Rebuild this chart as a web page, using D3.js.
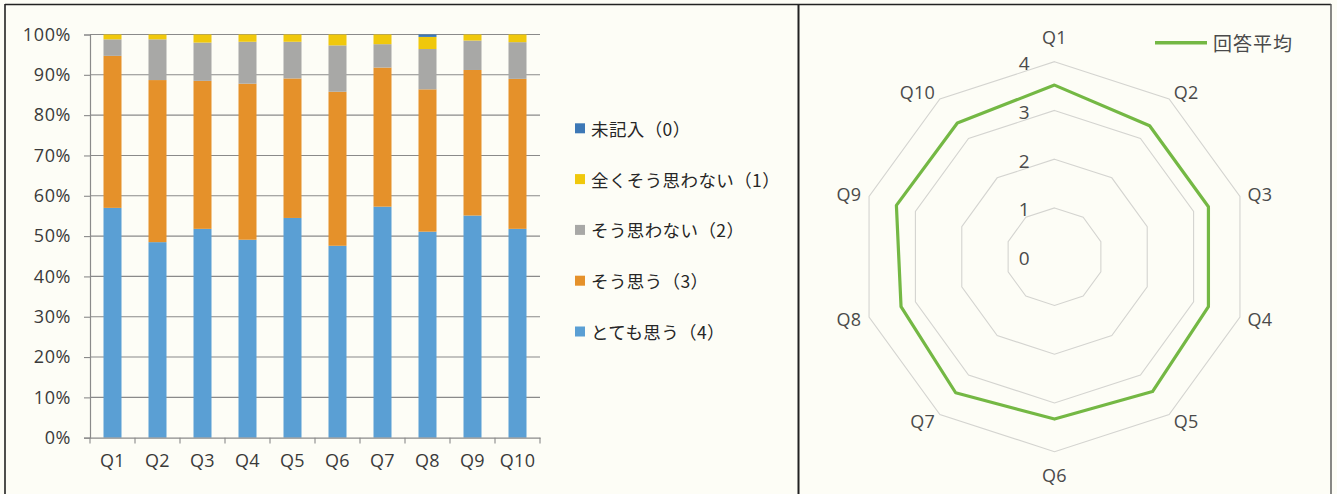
<!DOCTYPE html>
<html><head><meta charset="utf-8">
<script src="https://cdn.jsdelivr.net/npm/d3@7"></script>
<style>
html,body{margin:0;padding:0;background:#fdfdf6;}
svg{display:block;}
text{font-family:"Open Sans","Noto Sans CJK JP",sans-serif;}
.jp{font-family:"Noto Sans CJK JP","Open Sans",sans-serif;}
</style></head>
<body>
<script>
// ---- data ----
const questions = ["Q1","Q2","Q3","Q4","Q5","Q6","Q7","Q8","Q9","Q10"];
const seriesNames = ["とても思う（4）","そう思う（3）","そう思わない（2）","全くそう思わない（1）","未記入（0）"];
const verymuch  = [57.0,48.5,51.8,49.1,54.5,47.6,57.3,51.1,55.1,51.8];
const agree     = [37.7,40.2,36.7,38.7,34.6,38.2,34.5,35.3,36.1,37.2];
const disagree  = [4.1,10.1,9.5,10.4,9.1,11.5,5.8,10.0,7.3,9.1];
const never     = [1.2,1.2,2.0,1.8,1.8,2.7,2.4,3.0,1.5,1.9];
const noanswer  = [0,0,0,0,0,0,0,0.6,0,0];
const yTicks    = [0,10,20,30,40,50,60,70,80,90,100];
const radarAvg  = [3.52,3.32,3.32,3.32,3.42,3.33,3.45,3.31,3.41,3.39];
const radarTicks = [0,1,2,3,4];
const radarLegend = "回答平均";
const colors = ["#5a9fd4","#e5912a","#a8a8a6","#f0c80c","#3d78b6"];

const W = 1337, H = 494;
const svg = d3.select("body").append("svg").attr("width", W).attr("height", H);
svg.append("rect").attr("width", W).attr("height", H).attr("fill", "#fdfdf6");

// frames
svg.append("line").attr("x1",5).attr("x2",1331).attr("y1",4.5).attr("y2",4.5).attr("stroke","#222").attr("stroke-width",1.6);
svg.append("line").attr("x1",5).attr("x2",5).attr("y1",4).attr("y2",H).attr("stroke","#222").attr("stroke-width",1.6);
svg.append("line").attr("x1",798.5).attr("x2",798.5).attr("y1",4).attr("y2",H).attr("stroke","#222").attr("stroke-width",2);
svg.append("line").attr("x1",1331).attr("x2",1331).attr("y1",4).attr("y2",H).attr("stroke","#555").attr("stroke-width",1.4);

// ---- stacked bar chart ----
const x = d3.scaleBand().domain(questions).range([90,540]).paddingInner(0.6).paddingOuter(0.3);
const y = d3.scaleLinear().domain([0,100]).range([437.7,34.5]);
const gridCol = "#8a8a8a";
const textCol = "#3a3a3a";

const g = svg.append("g");
g.selectAll("line.grid").data(yTicks.filter(d=>d>0)).join("line")
  .attr("x1",90).attr("x2",540).attr("y1",d=>y(d)).attr("y2",d=>y(d))
  .attr("stroke",gridCol).attr("stroke-width",1.1);

const rows = questions.map((q,i)=>({q, v:[verymuch[i],agree[i],disagree[i],never[i],noanswer[i]]}));
const stackData = rows.map(r=>{const o={q:r.q}; r.v.forEach((v,j)=>o["s"+j]=v); return o;});
const stack = d3.stack().keys([0,1,2,3,4].map(j=>"s"+j))(stackData);
stack.forEach((layer,j)=>{
  g.append("g").selectAll("rect").data(layer).join("rect")
    .attr("x",d=>x(d.data.q)).attr("width",x.bandwidth())
    .attr("y",d=>y(d[1])).attr("height",d=>Math.max(0,y(d[0])-y(d[1])))
    .attr("fill",colors[j]);
});

// axes
const yAxis = d3.axisLeft(y).tickValues(yTicks).tickFormat(d=>d+"%").tickSize(6).tickPadding(13);
const ya = g.append("g").attr("transform","translate(90,0)").call(yAxis);
ya.select(".domain").attr("stroke",gridCol).attr("stroke-width",1.2);
ya.selectAll(".tick line").attr("stroke",gridCol).attr("stroke-width",1.1);
ya.selectAll("text").attr("font-size",18).attr("fill",textCol).attr("font-family","Open Sans").attr("letter-spacing","0.6px");

const xAxis = d3.axisBottom(x).tickSize(0).tickPadding(17);
const xa = g.append("g").attr("transform","translate(0,437.7)").call(xAxis);
xa.select(".domain").attr("stroke",gridCol).attr("stroke-width",1.2);
xa.selectAll("text").attr("font-size",18).attr("fill",textCol).attr("font-family","Open Sans").attr("letter-spacing","0.3px");
// category boundary ticks
const bounds = questions.map(q=>x(q)-x.step()*x.paddingInner()/2).concat([540]);
bounds[0]=90;
g.selectAll("line.xt").data(bounds).join("line")
  .attr("x1",d=>d).attr("x2",d=>d).attr("y1",437.7).attr("y2",443.5)
  .attr("stroke",gridCol).attr("stroke-width",1.1);

// legend
const legOrder = [4,3,2,1,0];
const leg = g.append("g");
legOrder.forEach((j,k)=>{
  const yy = 128.3 + k*50.8;
  leg.append("rect").attr("x",575).attr("y",yy-5).attr("width",10).attr("height",10).attr("fill",colors[j]);
  leg.append("text").attr("class","jp").attr("x",591).attr("y",yy).attr("dominant-baseline","central")
    .attr("font-size",17.5).attr("fill","#262626").attr("letter-spacing","0.4px").text(seriesNames[j]);
});

// ---- radar chart ----
const cx = 1054.5, cy = 256.7;
const r = d3.scaleLinear().domain([0,4]).range([0,195]);
const ang = d3.scalePoint().domain(questions).range([0, 2*Math.PI*(questions.length-1)/questions.length]);
const pt = (q,v)=>[cx + r(v)*Math.sin(ang(q)), cy - r(v)*Math.cos(ang(q))];
const rg = svg.append("g");
radarTicks.filter(t=>t>0).forEach(t=>{
  rg.append("polygon").attr("points", questions.map(q=>pt(q,t).join(",")).join(" "))
    .attr("fill","none").attr("stroke","#d4d4d0").attr("stroke-width",1.1);
});
rg.selectAll("text.rt").data(radarTicks).join("text")
  .attr("x",cx-25).attr("y",d=>cy - r(d) + 1.5).attr("text-anchor","end").attr("dominant-baseline","central")
  .attr("font-size",19).attr("fill","#4a4a4a").text(d=>d);

const line = d3.line().curve(d3.curveLinearClosed);
rg.append("path").attr("d", line(questions.map((q,i)=>pt(q,radarAvg[i]))))
  .attr("fill","none").attr("stroke","#74b844").attr("stroke-width",3.2).attr("stroke-linejoin","round");

questions.forEach(q=>{
  const a = ang(q), s = Math.sin(a), c = Math.cos(a);
  let lx, ly, anchor;
  if (Math.abs(s) < 0.1) {
    lx = cx; ly = cy - (c>0 ? 219.5 : -218.5); anchor = "middle";
  } else {
    lx = cx + 203*s; ly = cy - 203*c; anchor = s>0 ? "start" : "end";
  }
  rg.append("text").attr("x",lx).attr("y",ly).attr("text-anchor",anchor).attr("dominant-baseline","central")
    .attr("font-size",18).attr("fill","#4a4a4a").attr("letter-spacing","0.3px").text(q);
});

// radar legend
rg.append("line").attr("x1",1155).attr("x2",1207).attr("y1",42.7).attr("y2",42.7)
  .attr("stroke","#74b844").attr("stroke-width",3.6);
rg.append("text").attr("class","jp").attr("x",1213).attr("y",42.7).attr("dominant-baseline","central")
  .attr("font-size",19).attr("fill","#4a4a4a").attr("letter-spacing","1px").text(radarLegend);
</script>
</body></html>
